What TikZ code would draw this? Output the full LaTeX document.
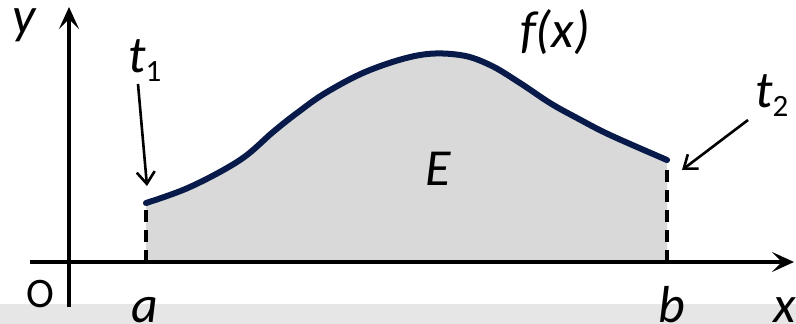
\documentclass[tikz,border=0pt]{standalone}
\usepackage{fontspec}
\setmainfont{Carlito}
\usetikzlibrary{arrows.meta}
\definecolor{curvenavy}{RGB}{8,26,74}
\definecolor{areagrey}{RGB}{217,217,217}
\definecolor{bandgrey}{RGB}{230,230,230}
\newcommand{\biglab}{\fontsize{52}{60}\selectfont\itshape}
\newcommand{\originlab}{\fontsize{42}{50}\selectfont\upshape}
\newcommand{\subl}[1]{\raisebox{-9pt}{\fontsize{31}{34}\selectfont\upshape #1}}
\begin{document}
\begin{tikzpicture}[x=1pt,y=-1pt,
  lab/.style={inner sep=0pt, anchor=base, font=\biglab},
  axis/.style={line width=4pt, -{Stealth[length=22pt,width=20pt,inset=10pt]}},
  pointer/.style={line width=2.6pt, -{Straight Barb[length=12pt,width=18pt]}},
  bound/.style={line width=4pt, dash pattern=on 12pt off 8pt},
  curve/.style={line width=6pt, curvenavy, line cap=round, line join=round}]
\useasboundingbox (0,0) rectangle (796,324);
\fill[bandgrey] (0,304) rectangle (796,324);
% area
\fill[areagrey] plot[smooth, tension=0.6] coordinates {(146,203) (190,187) (240,160) (273,132) (297,113) (327,92) (370,70) (420,55) (460,55) (490,65) (520,83) (550,103) (577,118) (610,135) (667,160)} -- (667,262) -- (146,262) -- cycle;
% axes
\coordinate (xs) at (30,262);
\coordinate (xe) at (794,262);
\coordinate (ys) at (69,307);
\coordinate (ye) at (69,7);
\draw[axis] (xs) -- (xe);
\draw[axis] (ys) -- (ye);
% boundaries
\coordinate (A0) at (146,262);
\coordinate (A1) at (146,206);
\coordinate (B0) at (667,262);
\coordinate (B1) at (667,164);
\draw[bound] (A0) -- (A1);
\draw[bound] (B0) -- (B1);
% curve
\draw[curve] plot[smooth, tension=0.6] coordinates {(146,203) (190,187) (240,160) (273,132) (297,113) (327,92) (370,70) (420,55) (460,55) (490,65) (520,83) (550,103) (577,118) (610,135) (667,160)};
% labels
\node[lab] (ylab) at (24,33) {y};
\node[lab, anchor=base west] (t1) at (128,72) {t\subl{1}};
\node[lab, anchor=base west] (t2) at (755,107) {t\subl{2}};
\node[lab] (fx) at (555,47) {f(x)};
\node[lab] (E) at (438,185) {E};
\node[inner sep=0pt, anchor=base, font=\originlab] (O) at (40,307) {O};
\node[lab] (alab) at (145,322) {a};
\node[lab] (blab) at (672,322) {b};
\node[lab] (xlab) at (785,322) {x};
% pointers
\coordinate (t1s) at (138,84);
\coordinate (t1e) at (147,186);
\coordinate (t2s) at (748,120);
\coordinate (t2e) at (682,170);
\draw[pointer] (t1s) -- (t1e);
\draw[pointer] (t2s) -- (t2e);
\end{tikzpicture}
\end{document}
